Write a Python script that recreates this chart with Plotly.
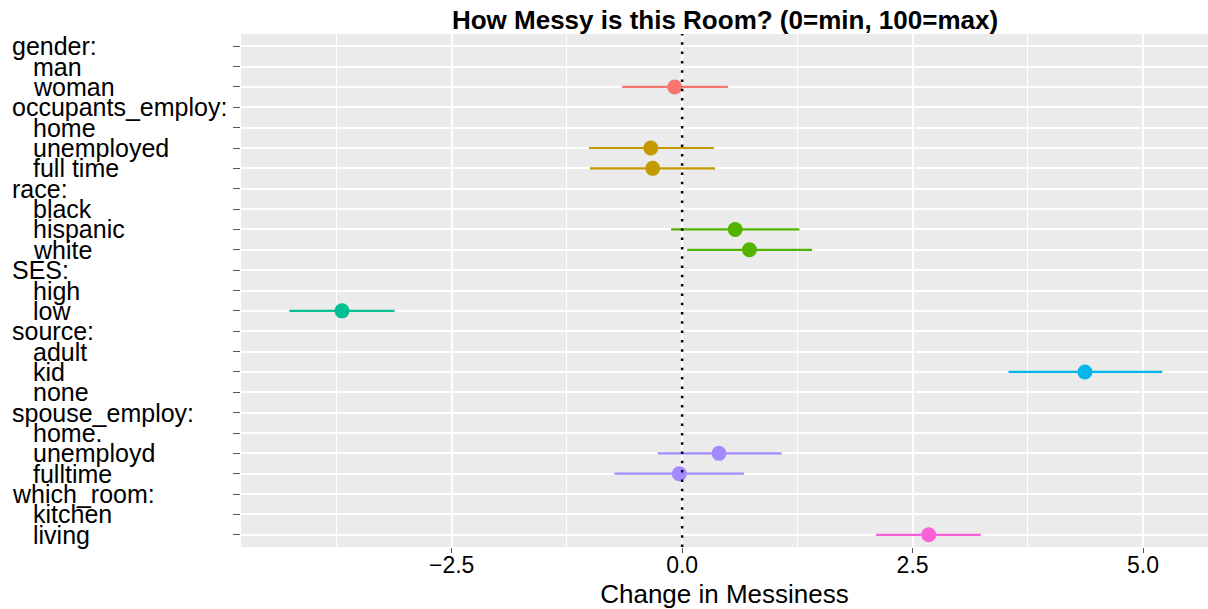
import plotly.graph_objects as go

# ---- data ----
row_labels = ["gender:", "man", "woman",
              "occupants_employ:", "home", "unemployed", "full time",
              "race:", "black", "hispanic", "white",
              "SES:", "high", "low",
              "source:", "adult", "kid", "none",
              "spouse_employ:", "home.", "unemployd", "fulltime",
              "which_room:", "kitchen", "living"]
row_group = ["gender"] * 3 + ["occupants_employ"] * 4 + ["race"] * 4 + ["SES"] * 3 + \
            ["source"] * 4 + ["spouse_employ"] * 4 + ["which_room"] * 3
estimate = [None, None, -0.08,
            None, None, -0.34, -0.32,
            None, None, 0.575, 0.73,
            None, None, -3.69,
            None, None, 4.37, None,
            None, None, 0.40, -0.03,
            None, None, 2.675]
lower = [None, None, -0.65,
         None, None, -1.01, -1.00,
         None, None, -0.12, 0.054,
         None, None, -4.26,
         None, None, 3.54, None,
         None, None, -0.265, -0.735,
         None, None, 2.105]
upper = [None, None, 0.496,
         None, None, 0.344, 0.358,
         None, None, 1.272, 1.41,
         None, None, -3.12,
         None, None, 5.21, None,
         None, None, 1.08, 0.67,
         None, None, 3.24]
groups = ["gender", "occupants_employ", "race", "SES", "source", "spouse_employ", "which_room"]
group_colors = ["#F8766D", "#C49A00", "#53B400", "#00C094", "#00B6EB", "#A58AFF", "#FB61D7"]
x_tickvals = [-2.5, 0.0, 2.5, 5.0]
x_ticktext = ["\u22122.5", "0.0", "2.5", "5.0"]
x_minor = [-3.75, -1.25, 1.25, 3.75]
ref_x = 0.0

FONT = "Liberation Sans, Arial, Helvetica, sans-serif"

fig = go.Figure()
for g, col in zip(groups, group_colors):
    ys, xs, ep, em = [], [], [], []
    for lab, grp, e, lo, hi in zip(row_labels, row_group, estimate, lower, upper):
        if grp == g and e is not None:
            ys.append(lab)
            xs.append(e)
            ep.append(hi - e)
            em.append(e - lo)
    fig.add_trace(go.Scatter(
        x=xs, y=ys, mode="markers",
        marker=dict(color=col, size=15, line=dict(width=0)),
        error_x=dict(type="data", array=ep, arrayminus=em, color=col,
                     thickness=2.2, width=0, symmetric=False),
        showlegend=False, hoverinfo="x+y"))

# y labels as left-aligned annotations (headers flush, levels indented)
annotations = []
for lab in row_labels:
    is_header = lab.endswith(":")
    annotations.append(dict(
        text=lab, xref="paper", yref="y", y=lab,
        x=(10 - 241) / 967 if is_header else (31 - 241) / 967,
        xanchor="left", yanchor="middle", showarrow=False,
        font=dict(family=FONT, size=25, color="black")))

fig.add_shape(type="line", xref="x", yref="paper", x0=ref_x, x1=ref_x, y0=0, y1=1,
              line=dict(color="black", width=2.5, dash="2.5px,6.8px"), layer="above")

fig.update_layout(
    width=1208, height=609,
    margin=dict(l=241, r=0, t=34, b=62),
    paper_bgcolor="white", plot_bgcolor="#EBEBEB",
    font=dict(family=FONT, color="black"),
    title=dict(text="<b>How Messy is this Room? (0=min, 100=max)</b>",
               x=(725) / 1208, xanchor="center", xref="container",
               y=1 - 20 / 609, yanchor="middle", yref="container",
               font=dict(family=FONT, size=26, color="black")),
    annotations=annotations,
    xaxis=dict(range=[-4.786, 5.705], tickvals=x_tickvals, ticktext=x_ticktext,
               showgrid=True, gridcolor="white", gridwidth=2, zeroline=False,
               ticks="outside", ticklen=5, tickwidth=1.3, tickcolor="#555555",
               ticklabelstandoff=-8,
               tickfont=dict(family=FONT, size=23, color="black"),
               minor=dict(tickvals=x_minor, showgrid=True, gridcolor="white", gridwidth=1.2, ticks=""),
               title=dict(text="Change in Messiness", standoff=10,
                          font=dict(family=FONT, size=26, color="black")),
               showline=False),
    yaxis=dict(type="category", categoryarray=row_labels, categoryorder="array",
               range=[24.6, -0.6], showticklabels=False,
               showgrid=True, gridcolor="white", gridwidth=2, zeroline=False,
               ticks="outside", ticklen=7, tickwidth=1.3, tickcolor="#555555",
               showline=False),
)

fig.write_html("out.html")
